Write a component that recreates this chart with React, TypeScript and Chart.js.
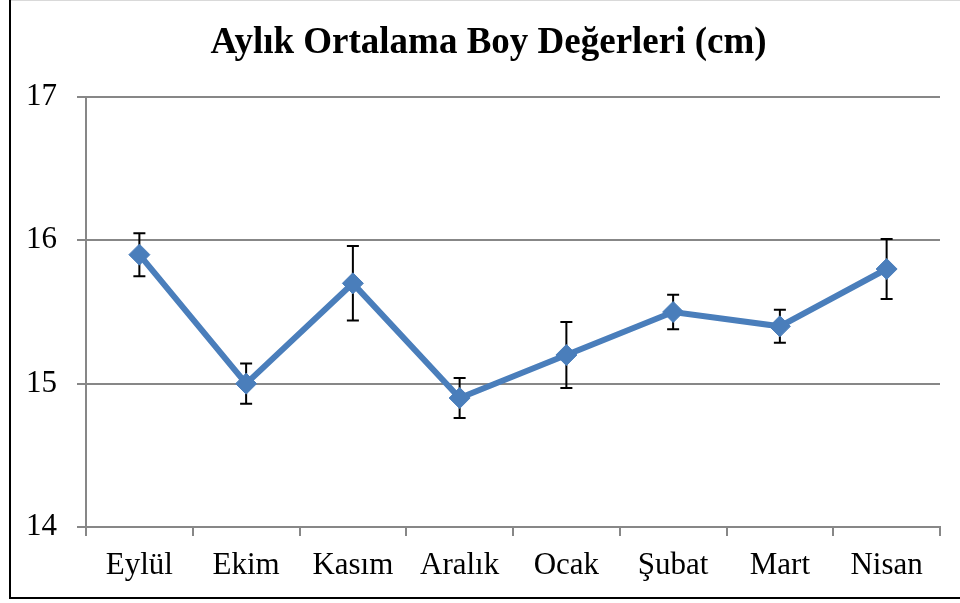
import React, { useEffect, useRef } from "react";
import { Chart, registerables } from "chart.js";

Chart.register(...registerables);

const categories = ["Eylül", "Ekim", "Kasım", "Aralık", "Ocak", "Şubat", "Mart", "Nisan"];
const means = [15.9, 15.0, 15.7, 14.9, 15.2, 15.5, 15.4, 15.8];
const errors = [0.15, 0.14, 0.26, 0.14, 0.23, 0.12, 0.115, 0.21];
const yTicks = [14, 15, 16, 17];
const titleText = "Aylık Ortalama Boy Değerleri (cm)";

const FONT = "'Liberation Serif', 'Times New Roman', serif";
const GRID = "#878787";
const BLUE = "#4A7EBB";

const errorBarPlugin = {
  id: "errorBars",
  beforeDatasetsDraw(chart: any) {
    const meta = chart.getDatasetMeta(0);
    const ys = chart.scales.y;
    const ctx = chart.ctx;
    ctx.save();
    ctx.strokeStyle = "#000";
    ctx.lineWidth = 2;
    meta.data.forEach((pt: any, i: number) => {
      const x = pt.x;
      const top = ys.getPixelForValue(means[i] + errors[i]);
      const bot = ys.getPixelForValue(means[i] - errors[i]);
      ctx.beginPath();
      ctx.moveTo(x, top);
      ctx.lineTo(x, bot);
      ctx.moveTo(x - 6, top);
      ctx.lineTo(x + 6, top);
      ctx.moveTo(x - 6, bot);
      ctx.lineTo(x + 6, bot);
      ctx.stroke();
    });
    ctx.restore();
  },
};

const titleAndFramePlugin = {
  id: "titleFrame",
  afterDraw(chart: any) {
    const ctx = chart.ctx;
    ctx.save();
    ctx.fillStyle = "#000";
    ctx.font = `bold 37px ${FONT}`;
    ctx.textAlign = "center";
    ctx.textBaseline = "alphabetic";
    ctx.fillText(titleText, 488.5, 53);

    ctx.strokeStyle = "#d9d9d9";
    ctx.lineWidth = 1;
    ctx.beginPath();
    ctx.moveTo(10, 0.5);
    ctx.lineTo(960, 0.5);
    ctx.stroke();
    ctx.strokeStyle = "#000";
    ctx.lineWidth = 2;
    ctx.beginPath();
    ctx.moveTo(10, 0);
    ctx.lineTo(10, 598);
    ctx.lineTo(960, 598);
    ctx.stroke();
    ctx.restore();
  },
};

export default function App() {
  const ref = useRef<HTMLCanvasElement>(null);
  useEffect(() => {
    if (!ref.current) return;
    const chart = new Chart(ref.current, {
      type: "line",
      data: {
        labels: categories,
        datasets: [
          {
            data: means,
            borderColor: BLUE,
            backgroundColor: BLUE,
            borderWidth: 6,
            pointStyle: "rectRot",
            pointRadius: 10.5,
            pointBackgroundColor: BLUE,
            pointBorderColor: BLUE,
            pointBorderWidth: 1,
            tension: 0,
          },
        ],
      },
      options: {
        animation: false,
        responsive: false,
        layout: { padding: { left: 0, right: 20, top: 97, bottom: 0 } },
        plugins: {
          legend: { display: false },
          tooltip: { enabled: false },
          title: { display: false },
        },
        scales: {
          x: {
            offset: true,
            afterFit: (s: any) => {
              s.height = 76;
            },
            grid: {
              offset: true,
              drawOnChartArea: false,
              drawTicks: true,
              tickLength: 9,
              color: GRID,
              lineWidth: 2,
            },
            border: { display: true, color: GRID, width: 2 },
            ticks: {
              color: "#000",
              font: { family: FONT, size: 31 },
              padding: 11,
              maxRotation: 0,
              autoSkip: false,
            },
          },
          y: {
            min: 14,
            max: 17,
            afterFit: (s: any) => {
              s.width = 86;
            },
            afterBuildTicks: (s: any) => {
              s.ticks = yTicks.map((v) => ({ value: v }));
            },
            grid: {
              color: GRID,
              lineWidth: 2,
              drawTicks: true,
              tickLength: 9,
            },
            border: { display: true, color: GRID, width: 2 },
            ticks: {
              color: "#000",
              font: { family: FONT, size: 31 },
              padding: 20,
            },
          },
        },
      },
      plugins: [errorBarPlugin, titleAndFramePlugin],
    });
    return () => chart.destroy();
  }, []);
  return (
    <div style={{ position: "fixed", left: 0, top: 0, width: 960, height: 603, background: "#fff" }}>
      <canvas ref={ref} width={960} height={603} style={{ display: "block" }} />
    </div>
  );
}
